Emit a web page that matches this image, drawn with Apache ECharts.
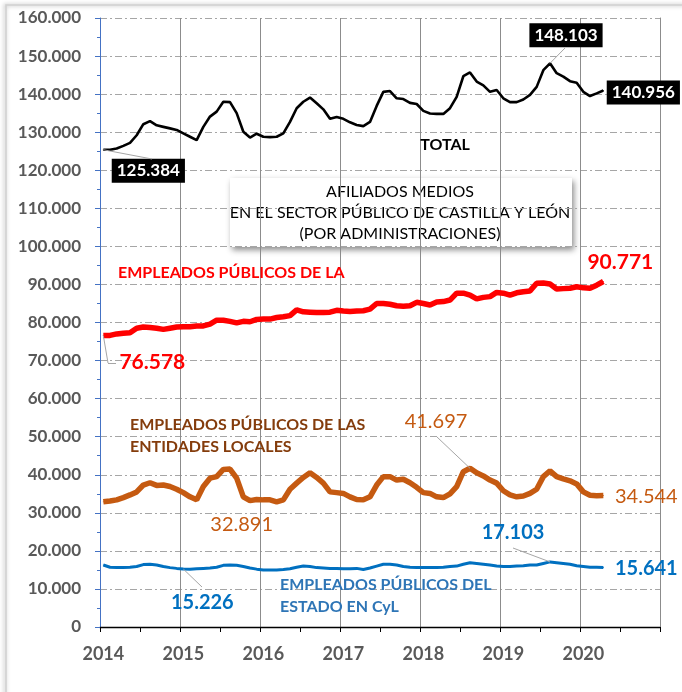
<!DOCTYPE html>
<html>
<head>
<meta charset="utf-8">
<script src="https://cdn.jsdelivr.net/npm/echarts@6/dist/echarts.min.js"></script>
<style>
  html, body { margin: 0; padding: 0; background: #fff; }
  #chart { width: 682px; height: 692px; }
</style>
</head>
<body>
<div id="chart"></div>
<script>
// Afiliados medios en el sector público de Castilla y León, mensual 2014 - abr 2020
const years = ['2014', '2015', '2016', '2017', '2018', '2019', '2020']

const total = [
  125384, 125400, 125700, 126400, 127200, 129200, 132100, 132900, 131800, 131400,
  131000, 130600, 129700, 128800, 127900, 131400, 134100, 135400, 138000, 137900,
  135000, 130100, 128600, 129600, 128800, 128700, 128800, 129700, 132700, 136300,
  138000, 139100, 137600, 136000, 133500, 134000, 133500, 132600, 131900, 131600,
  132700, 136900, 140600, 140800, 138900, 138700, 137700, 137400, 135600, 134900,
  134800, 134800, 136300, 139300, 144700, 145700, 143300, 142300, 140600, 141100,
  138900, 137900, 137900, 138600, 139800, 141900, 146300, 148103, 145500, 144600,
  143400, 143000, 140600, 139500, 140200, 140956
]
const autonomica = [
  76578, 76600, 77000, 77200, 77300, 78500, 78800, 78700, 78500, 78200,
  78500, 78800, 78900, 78900, 79100, 79100, 79600, 80600, 80600, 80300,
  79900, 80300, 80200, 80800, 80900, 80900, 81300, 81500, 81800, 83300,
  82800, 82700, 82600, 82600, 82700, 83200, 83000, 82900, 83000, 83100,
  83500, 85000, 85000, 84800, 84400, 84300, 84400, 85300, 85000, 84600,
  85400, 85500, 85900, 87700, 87700, 87200, 86200, 86600, 86800, 87900,
  87700, 87200, 87800, 88100, 88300, 90300, 90400, 90100, 88800, 88900,
  89000, 89400, 89100, 89000, 89800, 90771
]
const locales = [
  32900, 33100, 33400, 34000, 34700, 35500, 37300, 37900, 37200, 37300,
  36900, 36200, 35300, 34200, 33400, 36900, 39100, 39500, 41400, 41500,
  39100, 34200, 33200, 33500, 33400, 33400, 32891, 33400, 36200, 37800,
  39300, 40500, 39300, 37800, 35500, 35300, 35100, 34200, 33500, 33400,
  34200, 37300, 39500, 39500, 38600, 38800, 37900, 36700, 35300, 35100,
  34200, 34000, 35000, 36900, 40800, 41697, 40500, 39700, 38600, 37800,
  35800, 34700, 34200, 34400, 35100, 36200, 39500, 41000, 39500, 38900,
  38400, 37600, 35500, 34600, 34500, 34544
]
const estado = [
  16300, 15700, 15600, 15600, 15700, 15900, 16400, 16500, 16300, 15900,
  15600, 15400, 15226, 15200, 15300, 15400, 15500, 15700, 16200, 16300,
  16200, 15900, 15500, 15200, 15000, 15000, 15000, 15100, 15300, 15700,
  16000, 15900, 15600, 15500, 15400, 15400, 15300, 15300, 15400, 15100,
  15500, 16000, 16500, 16500, 16300, 15900, 15700, 15600, 15600, 15600,
  15600, 15700, 15900, 16000, 16500, 16900, 16700, 16500, 16300, 16000,
  15900, 15900, 16000, 16100, 16300, 16300, 16700, 17103, 16900, 16700,
  16500, 16100, 15900, 15700, 15700, 15641
]

// una categoría por mes, 7 años completos
const months = []
years.forEach((y) => {
  for (let m = 1; m <= 12; m++) months.push(y + '-' + String(m).padStart(2, '0'))
})

const fmt = (v) => String(Math.round(v)).replace(/\B(?=(\d{3})+(?!\d))/g, '.')
const FONT = 'Lato'

// marks: índice -> [dx, dy] de la etiqueta; leaders: índice -> puntos (px) de la línea guía
const makeSeries = (name, values, color, width, marks, labelStyle, leaders) => {
  const lines = []
  Object.keys(leaders).forEach((k) => {
    const i = Number(k)
    let prev = { coord: [months[i], values[i]] }
    leaders[k].forEach((pt) => {
      const next = { x: pt[0], y: pt[1] }
      lines.push([prev, next])
      prev = next
    })
  })
  return {
    name,
    type: 'line',
    data: values.map((v, i) => {
      if (!marks[i]) return v
      return {
        value: v,
        label: Object.assign({ show: true, position: 'inside', formatter: (p) => fmt(p.value) }, labelStyle)
      }
    }),
    showSymbol: true,
    showAllSymbol: true,
    symbol: 'circle',
    symbolSize: 1,
    itemStyle: { color },
    lineStyle: { color, width },
    label: { show: false },
    labelLayout: (p) => {
      const m = marks[p.dataIndex]
      return m ? { dx: m[0], dy: m[1] } : {}
    },
    markLine: {
      silent: true,
      symbol: 'none',
      animation: false,
      label: { show: false },
      lineStyle: { color: '#a6a6a6', width: 1, type: 'solid' },
      emphasis: { disabled: true },
      data: lines
    },
    emphasis: { disabled: true },
    silent: true,
    z: 3
  }
}

const chart = echarts.init(document.getElementById('chart'))

const blackBox = {
  color: '#fff', backgroundColor: '#000', fontFamily: FONT, fontWeight: 'bold',
  fontSize: 17, padding: [4, 5, 3, 5]
}
const redLbl = { color: '#ff0000', fontFamily: FONT, fontWeight: 'bold', fontSize: 21 }
const orangeLbl = { color: '#c55a11', fontFamily: FONT, fontWeight: 'normal', fontSize: 20 }
const blueLbl = { color: '#0070c0', fontFamily: FONT, fontWeight: 'bold', fontSize: 20 }

const option = {
  animation: false,
  backgroundColor: '#fff',
  grid: { left: 100, right: 22, top: 18, bottom: 65 },
  xAxis: {
    type: 'category',
    data: months,
    boundaryGap: true,
    axisLine: { lineStyle: { color: '#000', width: 1.3 } },
    axisTick: { show: true, interval: 5, length: 5, lineStyle: { color: '#000' } },
    axisLabel: {
      interval: 11,
      formatter: (v) => v.slice(0, 4),
      color: '#595959',
      fontFamily: FONT,
      fontWeight: 'bold',
      fontSize: 18,
      margin: 18
    },
    splitLine: { show: true, interval: 11, lineStyle: { color: '#8c8c8c', width: 1 } }
  },
  yAxis: [
    {
      type: 'value',
      min: 0,
      max: 160000,
      interval: 10000,
      axisLine: { show: true, lineStyle: { color: '#4472c4', width: 1 } },
      axisTick: { show: true, length: 5, lineStyle: { color: '#4472c4' } },
      minorTick: { show: true, splitNumber: 2, length: 3, lineStyle: { color: '#4472c4' } },
      axisLabel: {
        formatter: fmt,
        color: '#595959',
        fontFamily: FONT,
        fontWeight: 'bold',
        fontSize: 17,
        margin: 19
      },
      splitLine: { show: true, lineStyle: { color: '#a6a6a6', width: 1, type: [7, 3, 2, 3] } }
    },
    {
      type: 'value',
      position: 'right',
      min: 0,
      max: 160000,
      interval: 10000,
      axisLine: { show: true, lineStyle: { color: '#8c8c8c', width: 1 } },
      axisTick: { show: false },
      axisLabel: { show: false },
      splitLine: { show: false }
    }
  ],
  series: [
    makeSeries('TOTAL', total, '#000000', 2.6,
      { 0: [45, 21], 67: [16, -28], 75: [40, 2] }, blackBox,
      { 0: [[152, 159]], 67: [[565, 48]] }),
    makeSeries('EMPLEADOS PÚBLICOS DE LA JUNTA', autonomica, '#ff0000', 5.5,
      { 0: [49, 27], 75: [17, -19] }, redLbl,
      { 0: [[108, 363], [116, 363]] }),
    makeSeries('EMPLEADOS PÚBLICOS DE LAS ENTIDADES LOCALES', locales, '#c55a11', 5.5,
      { 26: [-35, 23], 55: [-34, -47], 75: [43, 1] }, orangeLbl,
      { 55: [[437, 437]] }),
    makeSeries('EMPLEADOS PÚBLICOS DEL ESTADO EN CyL', estado, '#0070c0', 3,
      { 67: [-37, -29], 12: [19, 34], 75: [43, 1] }, blueLbl,
      { 67: [[513, 548]], 12: [[202, 587]] })
  ],
  graphic: [
    {
      type: 'rect', z: 0, silent: true,
      shape: { x: 6, y: 5, width: 700, height: 700 },
      style: { fill: 'none', stroke: '#d0d0d0', lineWidth: 1.5, shadowBlur: 4, shadowColor: 'rgba(0,0,0,0.35)', shadowOffsetX: -1 }
    },
    {
      type: 'group', z: 10, silent: true,
      children: [
        {
          type: 'rect',
          shape: { x: 230, y: 178, width: 342, height: 69 },
          style: { fill: '#fff', shadowBlur: 6, shadowColor: 'rgba(0,0,0,0.45)', shadowOffsetX: 2, shadowOffsetY: 3 }
        },
        {
          type: 'text',
          style: {
            x: 400, y: 213,
            text: 'AFILIADOS MEDIOS\nEN EL SECTOR PÚBLICO DE CASTILLA Y LEÓN\n(POR ADMINISTRACIONES)',
            align: 'center', verticalAlign: 'middle', lineHeight: 21,
            fill: '#000', font: '16px Lato'
          }
        }
      ]
    },
    {
      type: 'text', z: 10, silent: true,
      style: { x: 445, y: 145, text: 'TOTAL', align: 'center', verticalAlign: 'middle', fill: '#000', font: 'bold 16px Lato' }
    },
    {
      type: 'text', z: 10, silent: true,
      style: { x: 118, y: 273, text: 'EMPLEADOS PÚBLICOS DE LA', align: 'left', verticalAlign: 'middle', fill: '#ff0000', font: 'bold 16px Lato' }
    },
    {
      type: 'text', z: 10, silent: true,
      style: {
        x: 130, y: 436, text: 'EMPLEADOS PÚBLICOS DE LAS\nENTIDADES LOCALES', lineHeight: 22,
        align: 'left', verticalAlign: 'middle', fill: '#843c0c', font: 'bold 16px Lato'
      }
    },
    {
      type: 'text', z: 10, silent: true,
      style: {
        x: 280, y: 596, text: 'EMPLEADOS PÚBLICOS DEL\nESTADO EN CyL', lineHeight: 22,
        align: 'left', verticalAlign: 'middle', fill: '#2e75b6', font: 'bold 16px Lato'
      }
    }
  ]
}

chart.setOption(option)
</script>
</body>
</html>
